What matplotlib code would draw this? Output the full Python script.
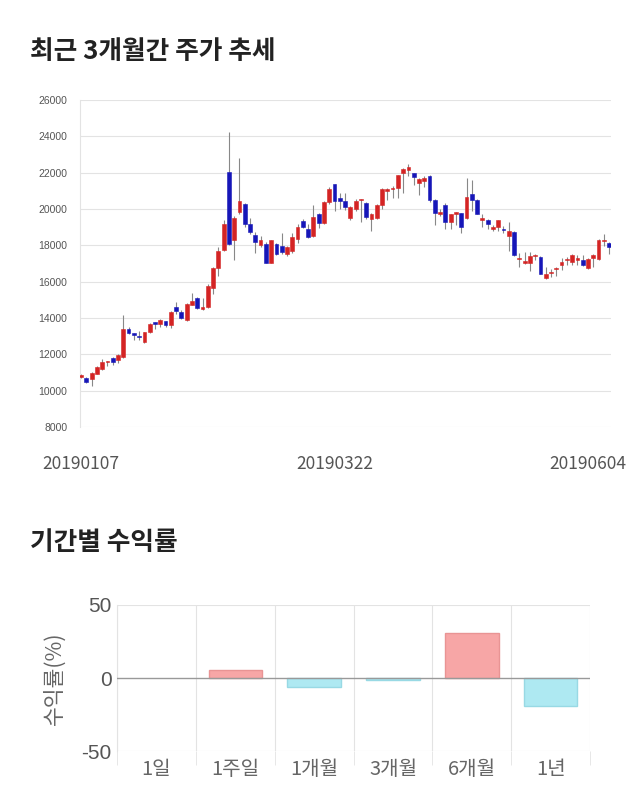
import matplotlib
matplotlib.use('Agg')
import matplotlib.pyplot as plt
import numpy as np

plt.rcParams['font.family'] = ['Noto Sans CJK KR', 'DejaVu Sans']
plt.rcParams['axes.unicode_minus'] = False

# daily candles (open, close, high, low)
opens = [10750, 10700, 10640, 10920, 11190, 11600, 11800, 11690, 11850, 13400,
         13180, 12980, 12680, 13230, 13780, 13670, 13830, 13600, 14600, 14330,
         13890, 14710, 15100, 14500, 14600, 15650, 16750, 17740, 22040, 18290,
         19830, 20270, 19170, 18570, 18020, 18070, 17030, 18070, 17960, 17520,
         17690, 18350, 19340, 18900, 18510, 19720, 19230, 20380, 21370, 20600,
         20440, 19500, 20000, 20500, 20330, 19450, 19500, 20220, 20990, 21100,
         21160, 21980, 22150, 21980, 21430, 21540, 21820, 20500, 19720, 20220,
         19280, 19750, 19780, 19500, 20830, 20500, 19390, 19390, 18900, 19010,
         18850, 18510, 18730, 17250, 17030, 17030, 17410, 17360, 16200, 16480,
         16700, 16920, 17190, 17080, 17190, 17190, 16750, 17300, 17250, 18240,
         18130]
closes = [10850, 10480, 10970, 11300, 11580, 11620, 11580, 11960, 13400, 13180,
          13060, 12950, 13230, 13670, 13670, 13890, 13600, 14330, 14390, 14000,
          14770, 14930, 14550, 14600, 15760, 16750, 17690, 19170, 18070, 19500,
          20440, 19170, 18730, 18180, 18290, 17030, 18290, 17520, 17630, 17910,
          18460, 19010, 19010, 18460, 19560, 19230, 20380, 21100, 20440, 20440,
          20110, 20110, 20440, 20520, 19560, 19720, 20220, 21100, 21100, 21160,
          21870, 22200, 22310, 21760, 21650, 21710, 20500, 19780, 19830, 19280,
          19720, 19800, 19010, 20660, 20500, 19720, 19500, 19170, 19010, 19390,
          18840, 18790, 17470, 17260, 17140, 17410, 17470, 16420, 16420, 16490,
          16710, 17080, 17200, 17470, 17300, 16920, 17250, 17470, 18290, 18250,
          17910]
highs = [10900, 10750, 11050, 11350, 11750, 11650, 11850, 12000, 14150, 13500,
         13200, 13300, 13250, 13700, 13800, 13950, 13850, 14400, 14900, 14450,
         14850, 15400, 15150, 15100, 15850, 16800, 17900, 19400, 24240, 19600,
         22800, 20350, 19500, 18750, 18500, 18200, 18300, 18150, 18700, 17950,
         18700, 19150, 19450, 19150, 20200, 19800, 20450, 21200, 21400, 20900,
         20900, 20150, 20550, 20550, 20400, 19800, 20250, 21150, 21150, 21250,
         21900, 22250, 22500, 22000, 21700, 21800, 21850, 20550, 20000, 20350,
         19750, 19850, 19800, 21700, 21600, 20550, 19700, 19450, 19100, 19400,
         19050, 19300, 18800, 17600, 17650, 17650, 17550, 17400, 16800, 16700,
         16800, 17300, 17350, 17500, 17450, 17450, 17300, 17500, 18350, 18650,
         18200]
lows = [10700, 10400, 10250, 10900, 11150, 11350, 11400, 11550, 11800, 13100,
        12800, 12800, 12600, 13200, 13400, 13500, 13500, 13450, 14200, 13950,
        13850, 14700, 14500, 14450, 14550, 15350, 16300, 17700, 18000, 17190,
        19700, 19000, 18600, 17600, 17900, 17030, 17030, 17450, 17550, 17400,
        17600, 18150, 18950, 18400, 18450, 18950, 19150, 20300, 19900, 20000,
        19950, 19400, 19900, 19300, 19450, 18800, 19450, 20000, 20500, 20600,
        20600, 20900, 21800, 21300, 20800, 21200, 20400, 19100, 19600, 18900,
        18900, 19100, 18700, 19450, 19900, 19700, 19000, 18900, 18800, 18800,
        18700, 17700, 17400, 16800, 16950, 16600, 17200, 16400, 16150, 16250,
        16300, 16650, 16900, 16900, 16900, 16850, 16700, 16800, 17200, 17950,
        17500]
date_ticks = [0, 48, 96]
date_labels = ['20190107', '20190322', '20190604']

periods = ['1일', '1주일', '1개월', '3개월', '6개월', '1년']
returns = [0, 5.2, -6.4, -1.1, 31.1, -19.3]

fig = plt.figure(figsize=(6.4, 8.1), dpi=100)

# ---- candlestick chart
ax = fig.add_axes([0.125, 0.4728, 0.83, 0.4037])
x = np.arange(len(opens))
o = np.array(opens)
c = np.array(closes)
up = c >= o
colors = np.where(up, '#d42424', '#1616b8')
ax.vlines(x, lows, highs, color='#888888', lw=0.8, zorder=2)
body = np.abs(c - o)
body = np.maximum(body, 60)
ax.bar(x, body, bottom=np.minimum(o, c), width=0.72, color=colors,
       edgecolor=colors, lw=0.4, zorder=3)
ax.set_xlim(-0.2, len(opens) - 0.6)
ax.set_ylim(8000, 26000)
ax.set_yticks(range(8000, 26001, 2000))
ax.grid(axis='y', color='#e3e3e3', lw=0.8)
ax.set_axisbelow(True)
for s in ['top', 'right', 'bottom']:
    ax.spines[s].set_visible(False)
ax.spines['left'].set_color('#e3e3e3')
ax.tick_params(axis='y', length=0, labelsize=7.5, colors='#555555', pad=9)
for lab in ax.get_yticklabels():
    lab.set_family(['Liberation Sans', 'DejaVu Sans'])
ax.set_xticks(date_ticks)
ax.set_xticklabels(date_labels)
ax.tick_params(axis='x', length=0, labelsize=12.5, colors='#555555', pad=20)

fig.text(0.047, 0.937, '최근 3개월간 주가 추세', fontsize=18.5, fontweight='bold',
         color='#222222', va='center')

# ---- period returns chart
ax2 = fig.add_axes([0.183, 0.0728, 0.739, 0.1803])
bar_colors = ['#f7a6a6' if r >= 0 else '#aee9f2' for r in returns]
edge_colors = ['#e99494' if r >= 0 else '#98d9e4' for r in returns]
edge_widths = [1 if r != 0 else 0 for r in returns]
ax2.bar(range(len(periods)), returns, width=0.68, color=bar_colors,
        edgecolor=edge_colors, lw=edge_widths, zorder=3)
ax2.set_xlim(-0.5, len(periods) - 0.5)
ax2.set_ylim(-50, 50)
ax2.set_yticks([-50, 0, 50])
ax2.axhline(0, color='#999999', lw=1, zorder=4)
ax2.axhline(50, color='#e3e3e3', lw=0.8, zorder=1)
ax2.axhline(-50, color='#e3e3e3', lw=0.8, zorder=1)
ax2.set_xticks(range(len(periods)))
ax2.set_xticklabels(periods)
ax2.set_xticks(np.arange(-0.5, len(periods), 1), minor=True)
ax2.grid(axis='x', which='minor', color='#e3e3e3', lw=0.8)
ax2.tick_params(axis='x', which='minor', length=10, color='#e3e3e3')
ax2.tick_params(axis='x', which='major', length=0, labelsize=14.5, colors='#666666', pad=6)
ax2.tick_params(axis='y', length=0, labelsize=15, colors='#555555', pad=4)
for lab in ax2.get_yticklabels():
    lab.set_family(['Liberation Sans', 'DejaVu Sans'])
for s in ['top', 'right', 'bottom']:
    ax2.spines[s].set_visible(False)
ax2.spines['left'].set_color('#e3e3e3')
ax2.set_ylabel('수익률(%)', fontsize=15.5, color='#666666', labelpad=11)

fig.text(0.047, 0.330, '기간별 수익률', fontsize=18.5, fontweight='bold',
         color='#222222', va='center')

fig.savefig('out.png', dpi=100, facecolor='white')
